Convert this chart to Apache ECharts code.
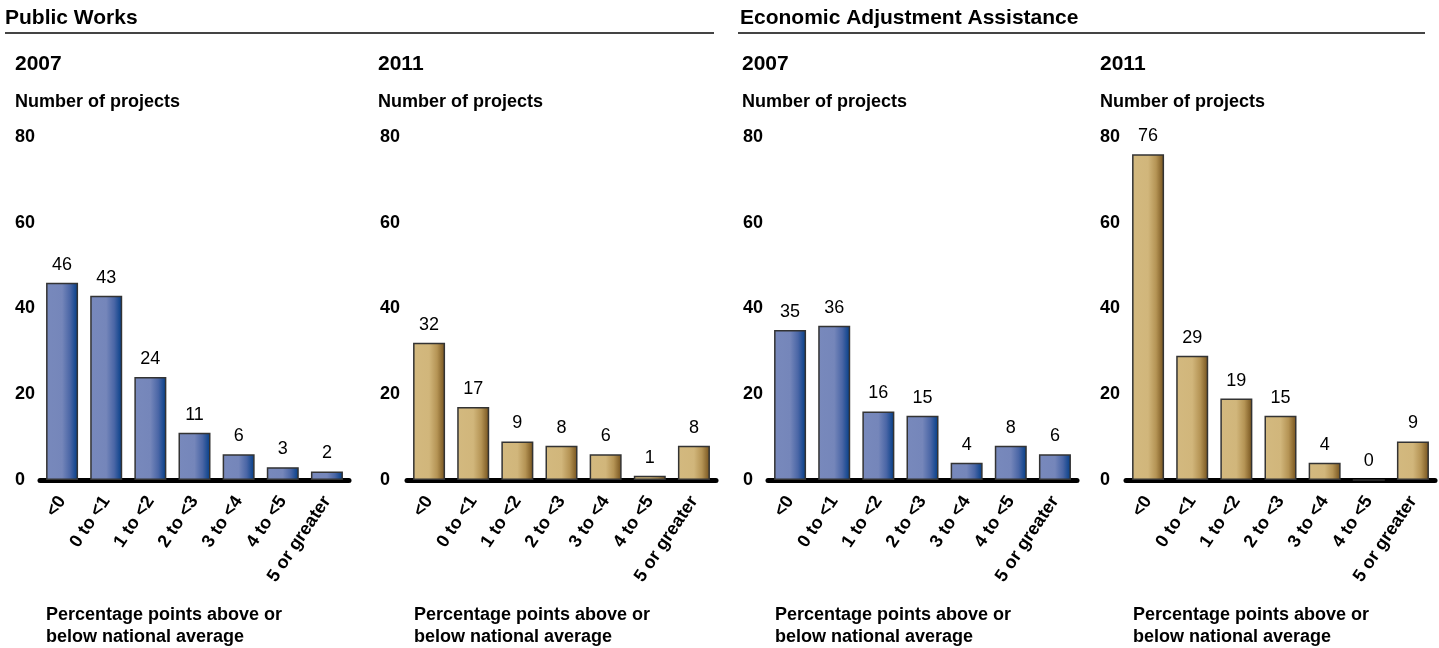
<!DOCTYPE html>
<html>
<head>
<meta charset="utf-8">
<script src="https://cdn.jsdelivr.net/npm/echarts@6/dist/echarts.min.js"></script>
<style>
html,body{margin:0;padding:0;background:#fff;}
#c{width:1439px;height:648px;}
</style>
</head>
<body>
<div id="c"></div>
<script>
const categories = ['<0', '0 to <1', '1 to <2', '2 to <3', '3 to <4', '4 to <5', '5 or greater'];
const pw2007 = [46, 43, 24, 11, 6, 3, 2];
const pw2011 = [32, 17, 9, 8, 6, 1, 8];
const eaa2007 = [35, 36, 16, 15, 4, 8, 6];
const eaa2011 = [76, 29, 19, 15, 4, 0, 9];
const yTicks = [0, 20, 40, 60, 80];
const sectionTitles = ['Public Works', 'Economic Adjustment Assistance'];
const panelYears = ['2007', '2011', '2007', '2011'];
const yAxisTitle = 'Number of projects';
const xAxisTitle = ['Percentage points above or', 'below national average'];

const FONT = 'Arial, "Liberation Sans", sans-serif';
const chart = echarts.init(document.getElementById('c'), null, {renderer: 'canvas'});

const panels = [
  {left: 40, labelX: 15, data: pw2007, kind: 'blue'},
  {left: 407, labelX: 380, data: pw2011, kind: 'tan'},
  {left: 768, labelX: 743, data: eaa2007, kind: 'blue'},
  {left: 1126, labelX: 1100, data: eaa2011, kind: 'tan'}
];
const titleX = [15, 378, 742, 1100];
const xTitleX = [46, 414, 775, 1133];

function grad(kind) {
  if (kind === 'blue') {
    return new echarts.graphic.LinearGradient(0, 0, 1, 0, [
      {offset: 0, color: '#7889bc'},
      {offset: 0.5, color: '#7586ba'},
      {offset: 0.75, color: '#4a66a6'},
      {offset: 1, color: '#003c86'}
    ]);
  }
  return new echarts.graphic.LinearGradient(0, 0, 1, 0, [
    {offset: 0, color: '#d3b97f'},
    {offset: 0.5, color: '#d1b67b'},
    {offset: 0.75, color: '#b59455'},
    {offset: 1, color: '#73501b'}
  ]);
}

const grids = [], xAxes = [], yAxes = [], series = [];
panels.forEach((p, i) => {
  grids.push({left: p.left, width: 309, top: 137, height: 343, containLabel: false});
  xAxes.push({
    type: 'category', gridIndex: i, data: categories,
    axisLine: {show: true, lineStyle: {color: '#000', width: 5}},
    axisTick: {show: false},
    axisLabel: {rotate: 56, interval: 0, margin: 18, color: '#000', fontFamily: FONT, fontWeight: 'bold', fontSize: 18}
  });
  yAxes.push({
    type: 'value', gridIndex: i, min: 0, max: 80, interval: 20,
    axisLine: {show: false}, axisTick: {show: false}, splitLine: {show: false},
    axisLabel: {
      align: 'left', margin: p.left - p.labelX, color: '#000', fontFamily: FONT, fontWeight: 'bold', fontSize: 18,
      formatter: v => yTicks.includes(v) ? String(v) : ''
    }
  });
  series.push({
    type: 'bar', xAxisIndex: i, yAxisIndex: i, data: p.data, barWidth: 32,
    itemStyle: {color: grad(p.kind), borderColor: '#333', borderWidth: 1.5},
    label: {show: true, position: 'top', distance: 9, color: '#000', fontFamily: FONT, fontSize: 18},
    silent: true, animation: false
  });
});

const graphics = [];
const secX = [5, 740];
const lineSeg = [[5, 714], [738, 1425]];
sectionTitles.forEach((t, i) => {
  graphics.push({type: 'text', left: secX[i], top: 8, style: {text: t, font: 'bold 21px ' + FONT, fill: '#000'}});
  graphics.push({type: 'line', shape: {x1: lineSeg[i][0], y1: 33, x2: lineSeg[i][1], y2: 33}, style: {stroke: '#444', lineWidth: 2}});
});
panelYears.forEach((y, i) => {
  graphics.push({type: 'text', left: titleX[i], top: 54, style: {text: y, font: 'bold 21px ' + FONT, fill: '#000'}});
  graphics.push({type: 'text', left: titleX[i], top: 93, style: {text: yAxisTitle, font: 'bold 18px ' + FONT, fill: '#000'}});
  graphics.push({type: 'text', left: xTitleX[i], top: 604, style: {text: xAxisTitle.join('\n'), font: 'bold 18px ' + FONT, fill: '#000', lineHeight: 22}});
});

chart.setOption({
  animation: false,
  grid: grids, xAxis: xAxes, yAxis: yAxes, series: series,
  graphic: graphics
});
</script>
</body>
</html>
